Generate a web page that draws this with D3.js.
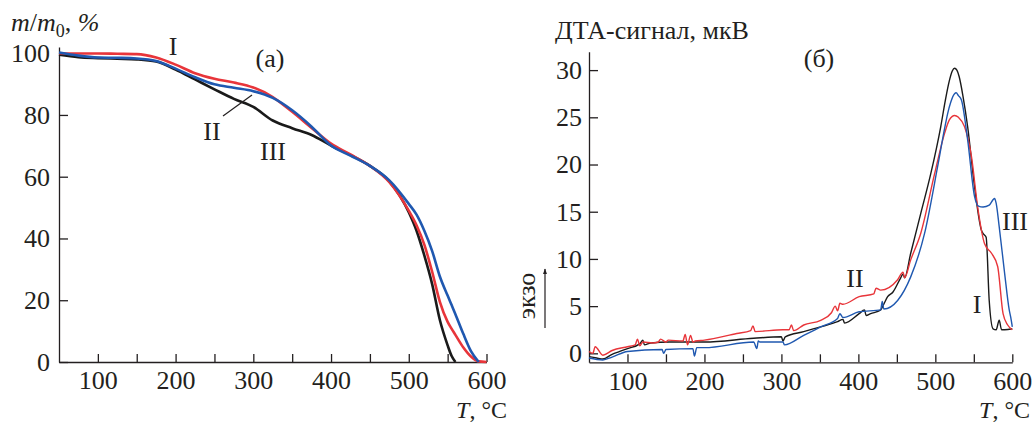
<!DOCTYPE html>
<html>
<head>
<meta charset="utf-8">
<script src="https://cdn.jsdelivr.net/npm/d3@7"></script>
<style>
  body { margin: 0; background: #fff; }
  svg { display: block; }
  text { font-family: "Liberation Serif", "DejaVu Serif", serif; fill: #231f20; }
</style>
</head>
<body>
<svg id="chart" width="1035" height="423"></svg>
<script>
// ---- panel (a): TG curves, m/m0 in % ----
const tgTemp = [50, 75, 100, 125, 150, 175, 200, 225, 250, 275, 300, 325, 350, 375, 400, 425, 450, 475, 500, 510, 520, 530, 540, 550, 555, 560, 570, 580, 590, 600];
const tgBlack = [99.5, 98.7, 98.4, 98.2, 98.0, 97.3, 94.7, 91.5, 88.3, 85.2, 82.6, 78.2, 75.7, 73.5, 70.1, 67.0, 63.5, 58.5, 48.5, 42.5, 34.5, 25.3, 13.6, 5.4, 2.0, 0, null, null, null, null];
const tgRed   = [100, 99.9, 99.9, 99.8, 99.7, 98.6, 96.3, 93.5, 91.7, 90.5, 88.9, 85.8, 81.0, 75.8, 70.7, 67.2, 63.5, 58.2, 49.0, 44.3, 38.0, 29.3, 19.5, 13.0, 10.8, 8.8, 4.8, 1.8, 0.2, 0];
const tgBlue  = [100.2, 99.2, 98.6, 98.5, 98.3, 97.5, 95.0, 92.2, 89.9, 88.8, 87.7, 85.5, 81.5, 76.2, 70.1, 66.8, 63.5, 58.8, 51.2, 47.7, 42.5, 36.0, 27.7, 21.5, 18.5, 15.5, 9.2, 3.5, 0, null];

// ---- panel (б): DTA curves, мкВ ----
const dtaBlackT = [50, 60, 68, 80, 90, 100, 116, 120, 122, 130, 155, 200, 264, 300, 302, 305, 329, 351, 373, 380, 382, 401, 408, 410, 416, 429, 433, 438, 445, 455, 458, 460, 468, 481, 494, 507, 513, 518, 522, 525, 528, 531, 536, 542, 551, 560, 563, 566, 570, 575, 579, 583, 586, 590, 600];
const dtaBlackV = [-0.35, -0.5, -0.6, -0.1, 0.2, 0.5, 1.0, 1.4, 0.9, 1.1, 1.2, 1.2, 1.6, 1.75, 1.3, 1.75, 2.3, 2.8, 3.35, 3.6, 3.2, 4.2, 4.6, 4.0, 4.2, 4.6, 5.2, 6.0, 6.5, 8.0, 8.4, 8.0, 10.6, 14.8, 19.0, 24.0, 26.8, 28.8, 29.9, 30.2, 30.0, 29.3, 27.2, 24.0, 17.6, 13.0, 12.6, 12.3, 5.6, 2.6, 2.5, 3.5, 2.5, 2.5, 2.6];

const dtaRedT = [50, 55, 58, 68, 80, 100, 110, 113, 116, 120, 133, 140, 143, 150, 153, 172, 175, 178, 182, 185, 188, 200, 242, 260, 263, 266, 302, 310, 313, 316, 329, 351, 365, 370, 373, 376, 380, 401, 420, 423, 429, 451, 458, 460, 468, 481, 499, 512, 518, 522, 525, 530, 538, 547, 555, 564, 573, 581, 588, 594, 600];
const dtaRedV = [0.2, 0.0, 0.7, -0.2, 0.3, 0.7, 0.9, 1.5, 0.8, 1.2, 1.1, 1.2, 1.5, 1.2, 1.4, 1.3, 2.0, 0.9, 1.9, 1.2, 1.3, 1.4, 2.1, 2.4, 2.9, 2.3, 2.5, 2.5, 3.0, 2.4, 3.0, 3.5, 4.3, 5.0, 4.5, 5.3, 5.2, 6.0, 6.3, 6.9, 6.7, 7.8, 8.6, 8.0, 9.9, 12.7, 19.0, 23.3, 24.7, 25.1, 25.2, 25.0, 24.0, 20.8, 15.5, 11.6, 10.6, 9.2, 4.2, 3.0, 2.5];

const dtaBlueT = [50, 68, 80, 100, 145, 147, 150, 185, 187, 190, 200, 264, 268, 270, 272, 302, 304, 329, 351, 373, 376, 380, 401, 429, 431, 433, 451, 468, 486, 503, 512, 516, 520, 525, 527, 530, 534, 542, 551, 556, 562, 570, 577, 579, 583, 590, 596, 598, 600];
const dtaBlueV = [-0.5, -0.7, -0.4, 0.2, 0.4, 0.0, 0.4, 0.5, -0.3, 0.6, 0.6, 1.2, 0.5, 1.3, 1.2, 1.2, 0.9, 1.9, 2.8, 3.7, 4.2, 3.8, 4.4, 4.6, 5.5, 4.7, 5.6, 8.1, 12.7, 19.8, 23.8, 25.4, 26.6, 27.5, 27.6, 27.3, 26.8, 22.6, 16.6, 15.6, 15.5, 15.7, 16.4, 15.9, 13.4, 8.5, 4.6, 3.8, 2.8];

const xTicks = [50, 100, 150, 200, 250, 300, 350, 400, 450, 500, 550, 600];
const tgTicks = [0, 20, 40, 60, 80, 100];
const dtaTicks = [0, 5, 10, 15, 20, 25, 30];

const RED = '#e8353a', BLUE = '#1f58b0', BLACK = '#1a1a1a';
const FONT = '"Liberation Serif", "DejaVu Serif", serif';
const fs = '26px';

const svg = d3.select('#chart');

function drawAxes(x, y, yTicks, yPad) {
    const g = svg.append('g');
    const ax = g.append('g')
        .attr('transform', `translate(0,${y.range()[0]})`)
        .call(d3.axisBottom(x).tickValues(xTicks).tickSize(-8).tickSizeOuter(0).tickPadding(9)
            .tickFormat(d => d % 100 === 0 ? d : ''));
    g.append('g')
        .attr('transform', `translate(${x.range()[0]},0)`)
        .call(d3.axisLeft(y).tickValues(yTicks).tickSize(-9).tickSizeOuter(0).tickPadding(yPad));
    g.selectAll('g').attr('font-family', FONT).attr('font-size', fs);
    g.selectAll('.domain, .tick line').attr('stroke', '#231f20').attr('stroke-width', 1.3);
    g.selectAll('.tick text').attr('fill', '#231f20');
    ax.selectAll('.tick').filter(d => d === 50).select('line').remove();
    return g;
}

// ---- panel (a) ----
const xa = d3.scaleLinear().domain([50, 600]).range([59, 486.5]);
const ya = d3.scaleLinear().domain([0, 102]).range([362, 47]);
drawAxes(xa, ya, tgTicks, 9);

const lineA = d3.line()
    .defined(d => d[1] !== null)
    .x(d => xa(d[0]))
    .y(d => ya(d[1]))
    .curve(d3.curveMonotoneX);

[[tgBlack, BLACK], [tgRed, RED], [tgBlue, BLUE]].forEach(([vals, c]) => {
    svg.append('path')
        .datum(tgTemp.map((t, i) => [t, vals[i]]))
        .attr('fill', 'none')
        .attr('stroke', c)
        .attr('stroke-width', 2.6)
        .attr('stroke-linejoin', 'round')
        .attr('d', lineA);
});

// ---- panel (б) ----
const xb = d3.scaleLinear().domain([50, 600]).range([589, 1012.3]);
const yb = d3.scaleLinear().domain([-0.95, 31.95]).range([362.3, 51.7]);
drawAxes(xb, yb, dtaTicks, 7);

const lineB = d3.line()
    .x(d => xb(d[0]))
    .y(d => yb(d[1]))
    .curve(d3.curveMonotoneX);

[[dtaBlackT, dtaBlackV, BLACK], [dtaRedT, dtaRedV, RED], [dtaBlueT, dtaBlueV, BLUE]].forEach(([ts, vs, c]) => {
    svg.append('path')
        .datum(ts.map((t, i) => [t, vs[i]]))
        .attr('fill', 'none')
        .attr('stroke', c)
        .attr('stroke-width', 1.4)
        .attr('stroke-linejoin', 'round')
        .attr('d', lineB);
});

// ---- labels ----
function label(x, y, txt, anchor = 'middle') {
    return svg.append('text').attr('x', x).attr('y', y)
        .attr('text-anchor', anchor).attr('font-family', FONT).style('font-size', fs).text(txt);
}

const ma = svg.append('text').attr('x', 11).attr('y', 31).attr('font-family', FONT).style('font-size', fs);
ma.append('tspan').style('font-style', 'italic').text('m');
ma.append('tspan').text('/');
ma.append('tspan').style('font-style', 'italic').text('m');
ma.append('tspan').attr('dy', 6).style('font-size', '18px').text('0');
ma.append('tspan').attr('dy', -6).text(', ');
ma.append('tspan').style('font-style', 'italic').text('%');

label(555, 39, 'ДТА-сигнал, мкВ', 'start');

[[507, 418], [1030, 418]].forEach(([x, y]) => {
    const t = svg.append('text').attr('x', x).attr('y', y).attr('text-anchor', 'end')
        .attr('font-family', FONT).style('font-size', '24px');
    t.append('tspan').style('font-style', 'italic').text('T');
    t.append('tspan').text(', °C');
});

label(270, 67, '(a)');
label(173, 55, 'I');
label(212, 140, 'II');
label(273, 160, 'III');
svg.append('line').attr('x1', 223).attr('y1', 116).attr('x2', 252).attr('y2', 95)
    .attr('stroke', '#231f20').attr('stroke-width', 1.2);

label(819, 67, '(б)');
label(855, 287, 'II');
label(1015, 230, 'III');
label(977, 313, 'I');

svg.append('text')
    .attr('transform', 'translate(535,296) rotate(-90)')
    .attr('text-anchor', 'middle')
    .attr('font-family', FONT)
    .style('font-size', fs)
    .text('экзо');

svg.append('defs').append('marker')
    .attr('id', 'arr').attr('viewBox', '0 0 10 10').attr('refX', 9).attr('refY', 5)
    .attr('markerWidth', 5).attr('markerHeight', 7).attr('orient', 'auto')
    .append('path').attr('d', 'M0,1.5L10,5L0,8.5Z').attr('fill', '#231f20');
svg.append('line').attr('x1', 545).attr('y1', 328).attr('x2', 545).attr('y2', 269)
    .attr('stroke', '#231f20').attr('stroke-width', 1.2).attr('marker-end', 'url(#arr)');
</script>
</body>
</html>
